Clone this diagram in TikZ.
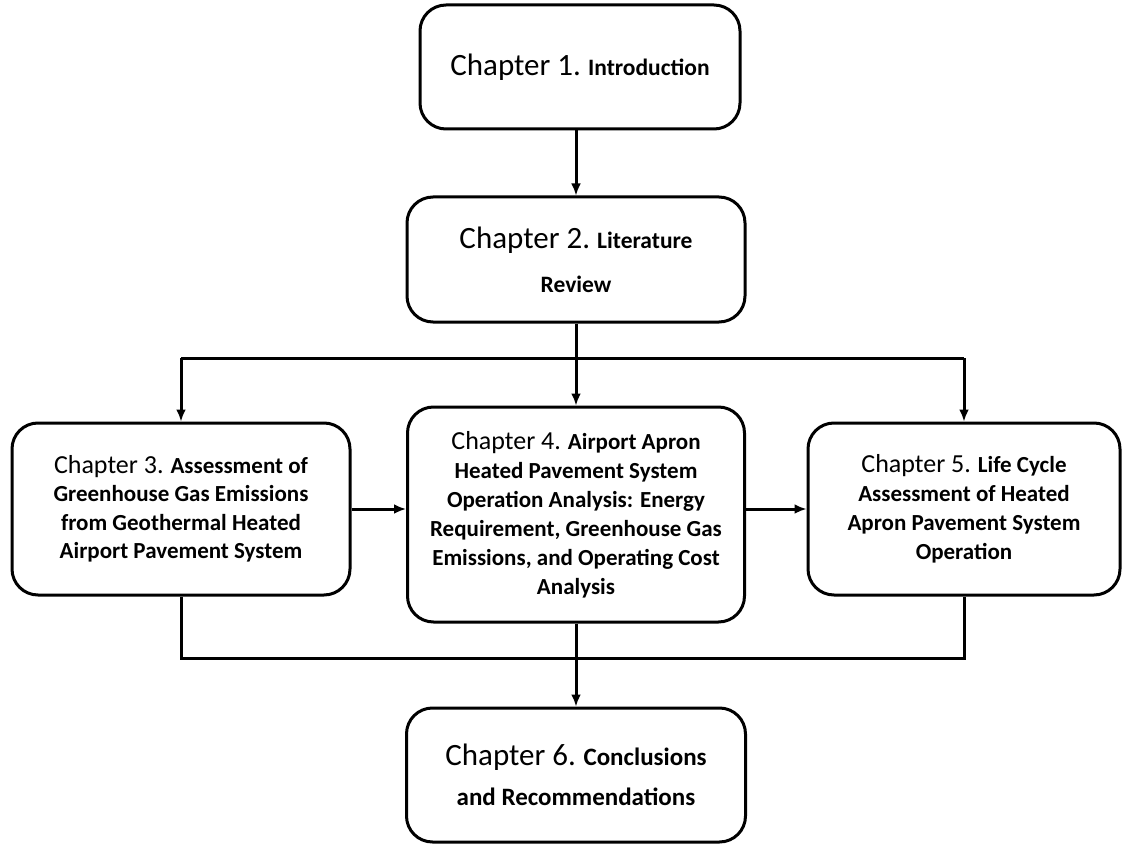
\documentclass[tikz,border=0pt]{standalone}
\usepackage{fontspec}
\setmainfont{Carlito}
\usetikzlibrary{arrows.meta}

\newcommand{\chapbig}[1]{{\mdseries\fontsize{31}{33}\selectfont Chapter #1.}}
\newcommand{\chapsmall}[1]{{\mdseries\fontsize{26}{29}\selectfont Chapter #1.}}

\begin{document}
\begin{tikzpicture}[x=1pt,y=-1pt]

      \useasboundingbox (0,0) rectangle (1130,845);

      \begin{scope}[every node/.style={rectangle, draw, rounded corners=26pt, line width=3pt,
            align=center, inner sep=0pt, font=\bfseries\fontsize{23.5}{29}\selectfont}]
        \node[minimum width=320pt, minimum height=124pt] (b1) at (580,67)
          {\chapbig{1} Introduction};
        \node[minimum width=338pt, minimum height=125pt, font=\bfseries\fontsize{23.5}{44}\selectfont] (b2) at (576,259.5)
          {\chapbig{2} Literature\\Review};
        \node[minimum width=338pt, minimum height=172pt, font=\bfseries\fontsize{23}{28.5}\selectfont] (b3) at (181,509)
          {\chapsmall{3} Assessment of\\Greenhouse Gas Emissions\\from Geothermal Heated\\Airport Pavement System};
        \node[minimum width=337pt, minimum height=215pt, font=\bfseries\fontsize{23}{29}\selectfont] (b4) at (576,514.5)
          {\chapsmall{4} Airport Apron\\Heated Pavement System\\Operation Analysis: Energy\\Requirement, Greenhouse Gas\\Emissions, and Operating Cost\\Analysis};
        \node[minimum width=312pt, minimum height=172pt, font=\bfseries\fontsize{23}{29}\selectfont] (b5) at (964,509)
          {\chapsmall{5} Life Cycle\\Assessment of Heated\\Apron Pavement System\\Operation};
        \node[minimum width=339pt, minimum height=134pt, font=\bfseries\fontsize{25}{40}\selectfont] (b6) at (576,775)
          {\chapbig{6} Conclusions\\and Recommendations};
      \end{scope}

      \begin{scope}[line width=3pt, >={Latex[length=12pt,width=10pt]}]
        \coordinate (hub) at (576,358);
        \coordinate (merge) at (576,658);
        \draw[->] (b1.south -| b2.north) -- (b2.north);
        \draw[->] (b2.south) -- (b4.north);
        \draw (hub -| b3.north) -- (hub -| b5.north);
        \draw[->] (hub -| b3.north) -- (b3.north);
        \draw[->] (hub -| b5.north) -- (b5.north);
        \draw[->] (b3.east) -- (b3.east -| b4.west);
        \draw[->] (b4.east |- b5.west) -- (b5.west);
        \draw (b3.south) -- (b3.south |- merge) -- (b5.south |- merge) -- (b5.south);
        \draw[->] (b4.south) -- (b6.north);
      \end{scope}

    \end{tikzpicture}
\end{document}
